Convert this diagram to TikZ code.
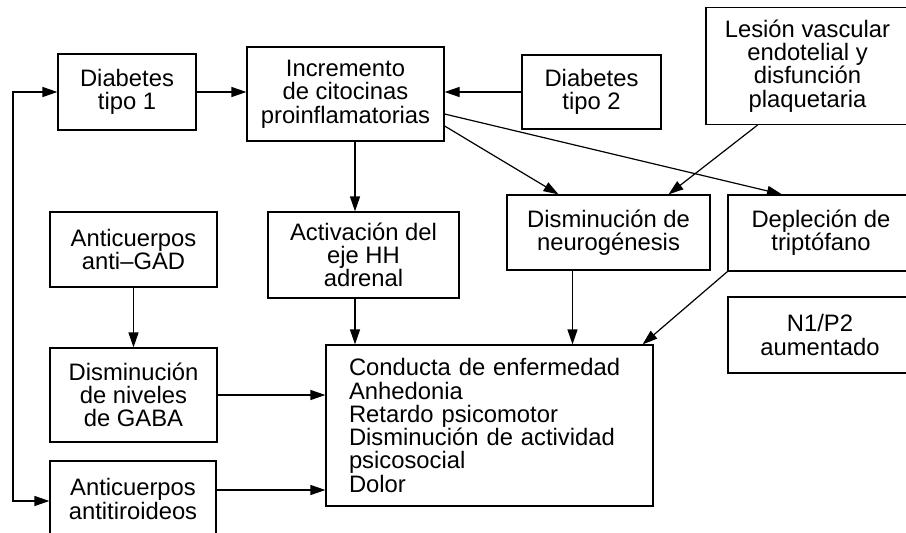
\documentclass[tikz,border=0pt]{standalone}
\usepackage{fontspec}
\setmainfont{Liberation Sans}
\usetikzlibrary{arrows.meta}

\begin{document}
\begin{tikzpicture}[x=1pt, y=-1pt, line width=1.2pt,
	box/.style 2 args={draw, align=center, inner sep=0pt, minimum width=#1, minimum height=#2,
		font=\fontsize{23.8}{23.3}\selectfont},
	arr/.style={-{Triangle[length=15pt,width=10pt]}},
	arrs/.style={{Triangle[length=15pt,width=10pt]}-{Triangle[length=15pt,width=10pt]}}]
				\useasboundingbox (0,0) rectangle (906,533);
				\node [box={138pt}{76pt}] (dt1) at (127,92) {Diabetes\\tipo 1};
				\node [box={197pt}{94pt}] (incr) at (345.5,94) {Incremento\\de citocinas\\proinflamatorias};
				\node [box={139pt}{74pt}] (dt2) at (591.5,92) {Diabetes\\tipo 2};
				\node [box={203pt}{117pt}] (lesion) at (807.5,66) {Lesión vascular\\endotelial y\\disfunción\\plaquetaria};
				\node [box={167pt}{75pt}] (gad) at (133.5,249.5) {Anticuerpos\\anti--GAD};
				\node [box={191pt}{86pt}] (activ) at (363.5,255) {Activación del\\eje HH\\adrenal};
				\node [box={203pt}{75pt}] (neuro) at (608.5,232.5) {Disminución de\\neurogénesis};
				\node [box={186pt}{76pt}] (depl) at (821,233) {Depleción de\\triptófano};
				\node [box={184pt}{76pt}] (np) at (820,335) {N1/P2\\aumentado};
				\node [box={167pt}{94pt}] (gaba) at (133.5,395) {Disminución\\de niveles\\de GABA};
				\node [box={166pt}{76pt}] (tiro) at (133,499) {Anticuerpos\\antitiroideos};
				\node [box={327pt}{161pt}, align=left, text width=281pt] (cond) at (489.5,425.5)
					{Conducta de enfermedad\\Anhedonia\\Retardo psicomotor\\Disminución de actividad\\psicosocial\\Dolor};
				\coordinate (hh) at (355,0);
				\coordinate (loop) at (13,300);
				\draw [arr] (dt1.east) -- (dt1.east -| incr.west);
				\draw [arr] (dt2.west) -- (dt2.west -| incr.east);
				\draw [arr] (incr.south -| hh) -- (activ.north -| hh);
				\draw [arr] (activ.south -| hh) -- (cond.north -| hh);
				\draw [arr] ([yshift=-32pt]incr.east) -- ([xshift=-50pt]neuro.north);
				\draw [arr] ([yshift=-20pt]incr.east) -- ([xshift=-39pt]depl.north);
				\draw [arr] ([xshift=-50pt]lesion.south) -- ([xshift=60pt]neuro.north);
				\draw [arr] ([xshift=-36pt]neuro.south) -- ([xshift=-36pt]neuro.south |- cond.north);
				\draw [arr] (depl.south west) -- ([xshift=-11pt]cond.north east);
				\draw [arr] (gad) -- (gaba);
				\draw [arr] (gaba.east) -- (gaba.east -| cond.west);
				\draw [arr] ([yshift=9pt]tiro.east) -- (cond.west |- 0,490);
				\draw [arrs] (dt1.west) -| (loop) |- ([yshift=-2pt]tiro.west);
			\end{tikzpicture}
\end{document}
